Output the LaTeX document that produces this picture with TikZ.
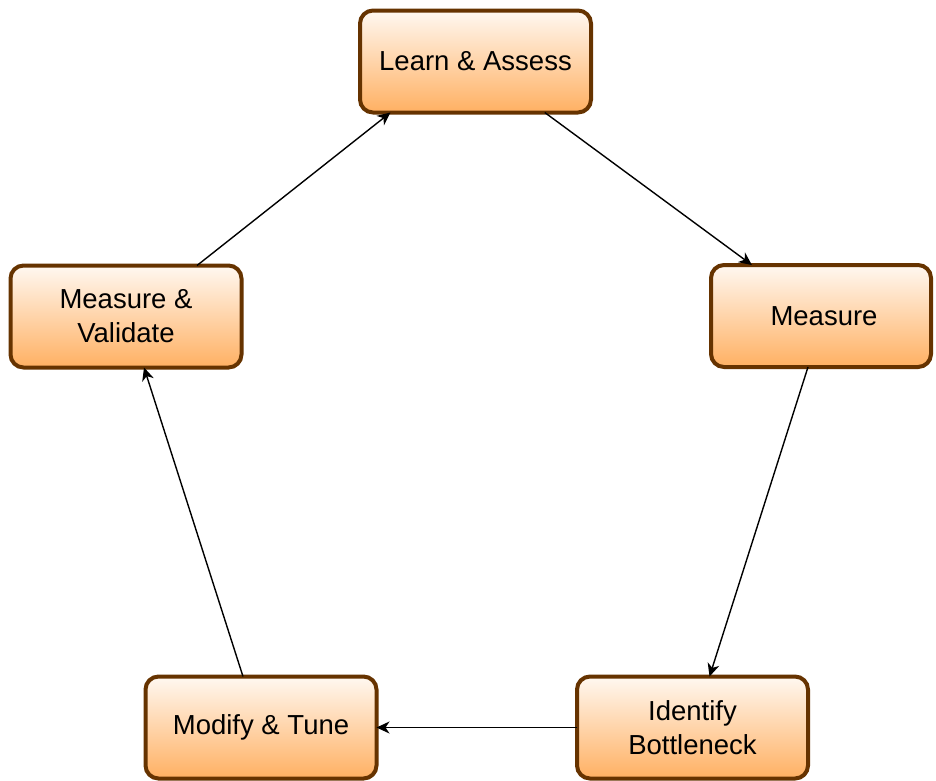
\documentclass[tikz,border=0pt]{standalone}
\usepackage{fontspec}
\setmainfont{Liberation Sans}
\usetikzlibrary{arrows.meta}
\definecolor{boxborder}{HTML}{663300}
\definecolor{boxtop}{HTML}{FFF8F1}
\definecolor{boxbottom}{HTML}{FFB062}
\tikzset{
  stagebox/.style={
    rectangle, rounded corners=13pt, draw=boxborder, line width=4pt,
    top color=boxtop, bottom color=boxbottom,
    minimum width=231pt, minimum height=102pt, inner sep=0pt, outer sep=0pt,
    align=center, font=\fontsize{27.5}{34}\selectfont, text=black},
  flow/.style={line width=1.4pt, draw=black,
    -{Stealth[length=13pt, width=12pt, inset=4pt]}}
}
\begin{document}
\begin{tikzpicture}[x=1pt, y=-1pt]
  \useasboundingbox (0,0) rectangle (936,780);
  \node[stagebox] (learn)    at (475.5, 61.5) {Learn \& Assess};
  \node[stagebox, minimum width=220pt] (measure) at (821, 316) {\hspace*{6pt}Measure};
  \node[stagebox] (identify) at (692.5, 727.5) {Identify\\Bottleneck};
  \node[stagebox] (modify)   at (261, 727.5) {Modify \& Tune};
  \node[stagebox] (validate) at (126, 316.5) {Measure \&\\Validate};

  \draw[flow] (learn) -- (measure);
  \draw[flow] ([xshift=-13pt]measure.south) -- ([xshift=17pt]identify.north);
  \draw[flow] (identify) -- (modify);
  \draw[flow] ([xshift=-18pt]modify.north) -- ([xshift=18pt]validate.south);
  \draw[flow] ([xshift=71pt]validate.north) -- ([xshift=-85pt]learn.south);
\end{tikzpicture}
\end{document}
